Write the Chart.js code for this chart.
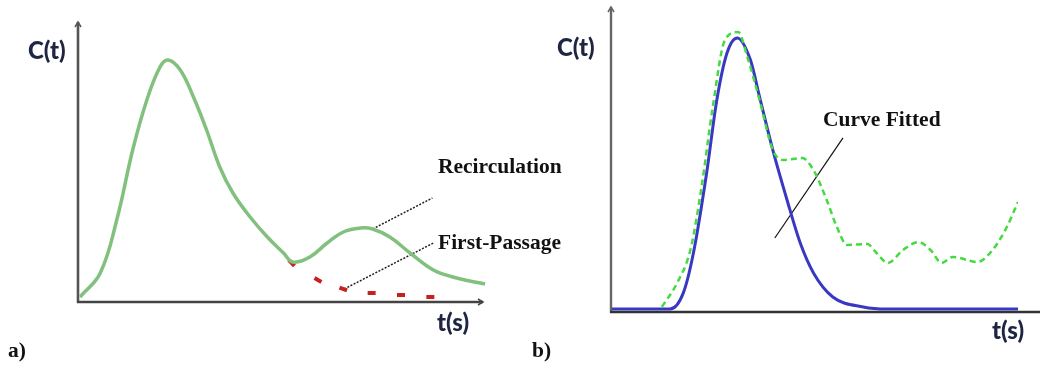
<!DOCTYPE html>
<html>
<head>
<meta charset="utf-8">
<title>C(t) curves</title>
<script src="https://cdn.jsdelivr.net/npm/chart.js@4.4.1/dist/chart.umd.min.js"></script>
<style>
  html, body { margin: 0; padding: 0; background: #fff; }
  #wrap { position: relative; width: 1040px; height: 376px; overflow: hidden; }
  canvas { position: absolute; top: 0; }
  #chartA { left: 0; }
  #chartB { left: 520px; }
  .lbl { position: absolute; white-space: nowrap; line-height: 1; transform: translateY(-50%); }
  .serif { font-family: "Liberation Serif", "Times New Roman", serif; font-weight: bold; font-size: 21.5px; color: #111; }
  .ax { font-family: Lato, "Open Sans", sans-serif; font-weight: 900; font-size: 24px; color: #1d2542; }
</style>
</head>
<body>
<div id="wrap">
  <canvas id="chartA" width="520" height="376"></canvas>
  <canvas id="chartB" width="520" height="376"></canvas>

  <div class="lbl ax" style="left:28px; top:50px;">C(t)</div>
  <div class="lbl ax" style="left:437px; top:322px;">t(s)</div>
  <div class="lbl serif" style="left:8px; top:351px;">a)</div>
  <div class="lbl serif" style="left:438px; top:167px;">Recirculation</div>
  <div class="lbl serif" style="left:438px; top:243px;">First-Passage</div>

  <div class="lbl ax" style="left:557px; top:47px;">C(t)</div>
  <div class="lbl ax" style="left:992px; top:330px;">t(s)</div>
  <div class="lbl serif" style="left:532px; top:351px;">b)</div>
  <div class="lbl serif" style="left:823px; top:120px;">Curve Fitted</div>
</div>

<script>
  // === Panel a: concentration with recirculation ===
  const tA = [0.2, 2.2, 3.9, 5.4, 6.8, 8.1, 8.9, 10.1, 11.4, 12.7, 14.0, 15.3, 17.0, 18.7, 20.3, 21.2, 22.9, 24.6, 26.2, 27.9, 29.1, 30.8, 32.8, 35.1, 37.4, 40.2];
  const cA = [0.25, 1.45, 4.25, 7.6, 10.1, 11.75, 12.1, 11.6, 10.25, 8.6, 6.75, 5.45, 4.25, 3.25, 2.45, 2.0, 2.25, 2.95, 3.5, 3.7, 3.65, 3.25, 2.45, 1.6, 1.2, 0.9];
  const tFirstPass = [21.1, 23.7, 26.2, 29.0, 31.9, 34.8];
  const cFirstPass = [1.95, 1.1, 0.65, 0.45, 0.35, 0.25];
  const dashAngle = [45, 30, 20, 0, 0, 0];
  const recircLeader = [[29.1, 3.65], [35.0, 5.2]];
  const firstPassLeader = [[26.3, 0.65], [35.1, 2.95]];

  // === Panel b: measured vs fitted ===
  const tFit = [0.1, 5.8, 7.1, 8.1, 9.4, 10.4, 11.4, 12.4, 13.7, 14.6, 15.9, 17.3, 18.6, 19.9, 21.8, 24.8, 27.1, 40];
  const cFit = [0.15, 0.15, 0.93, 2.9, 6.84, 10.43, 12.74, 13.48, 12.4, 10.58, 7.97, 5.51, 3.39, 1.92, 0.74, 0.25, 0.15, 0.15];
  const tMeas = [5.0, 6.5, 7.8, 8.9, 10.0, 11.2, 12.5, 13.4, 14.6, 15.9, 16.9, 18.8, 19.9, 21.2, 22.2, 23.2, 25.2, 26.1, 27.2, 28.7, 30.2, 31.4, 32.5, 33.6, 36.0, 37.5, 38.9, 40];
  const cMeas = [0.25, 1.43, 3.05, 6.15, 10.08, 13.38, 13.77, 12.54, 10.43, 7.97, 7.48, 7.57, 6.98, 5.51, 4.18, 3.3, 3.34, 2.9, 2.41, 3.05, 3.44, 3.05, 2.41, 2.71, 2.46, 3.05, 4.18, 5.41];
  const fitLeader = [[22.8, 8.56], [16.1, 3.64]];

  const pts = (xs, ys) => xs.map((x, i) => ({ x: x, y: ys[i] }));
  const pairs = arr => arr.map(p => ({ x: p[0], y: p[1] }));

  // axes with arrow heads, drawn under the curves
  const axesPlugin = {
    id: 'axes',
    beforeDatasetsDraw(chart, args, opts) {
      const { ctx, chartArea: a } = chart;
      ctx.save();
      ctx.strokeStyle = opts.yColor;
      ctx.lineWidth = opts.width;
      ctx.beginPath();
      ctx.moveTo(a.left, a.bottom + 1);
      ctx.lineTo(a.left, a.top);
      ctx.stroke();
      ctx.lineWidth = 1.5;
      ctx.beginPath();
      ctx.moveTo(a.left - 3, a.top + 5);
      ctx.lineTo(a.left, a.top);
      ctx.lineTo(a.left + 3, a.top + 5);
      ctx.stroke();

      const xEnd = opts.xEnd || a.right;
      ctx.strokeStyle = opts.xColor;
      ctx.lineWidth = opts.width;
      ctx.beginPath();
      ctx.moveTo(a.left - 1, a.bottom);
      ctx.lineTo(xEnd, a.bottom);
      ctx.stroke();
      if (opts.xArrow) {
        ctx.lineWidth = 1.5;
        ctx.beginPath();
        ctx.moveTo(xEnd - 5, a.bottom - 3);
        ctx.lineTo(xEnd, a.bottom);
        ctx.lineTo(xEnd - 5, a.bottom + 3);
        ctx.stroke();
      }
      ctx.restore();
    }
  };

  const baseOptions = {
    responsive: false,
    animation: false,
    events: [],
    plugins: { legend: { display: false }, tooltip: { enabled: false } },
    elements: { point: { radius: 0 } }
  };

  const chartA = document.getElementById('chartA');
  if (chartA) {
    new Chart(chartA, {
      type: 'line',
      data: {
        datasets: [{
          data: pts(tA, cA),
          borderColor: '#82c07e',
          borderWidth: 3.5,
          tension: 0.4,
          clip: false
        }, {
          data: pts(tFirstPass, cFirstPass),
          showLine: false,
          pointStyle: 'line',
          pointRadius: 4,
          pointRotation: dashAngle,
          pointBorderColor: '#c8201c',
          pointBorderWidth: 4
        }, {
          data: pairs(recircLeader),
          borderColor: '#222',
          borderWidth: 1.5,
          borderDash: [2, 1.5]
        }, {
          data: pairs(firstPassLeader),
          borderColor: '#222',
          borderWidth: 1.5,
          borderDash: [2, 1.5]
        }]
      },
      options: {
        ...baseOptions,
        layout: { padding: { left: 78, right: 37, top: 22, bottom: 74 } },
        scales: {
          x: { type: 'linear', min: 0, max: 40, display: false },
          y: { min: 0, max: 14, display: false }
        },
        plugins: {
          ...baseOptions.plugins,
          axes: { yColor: '#555', xColor: '#444', width: 2.6, xArrow: true }
        }
      },
      plugins: [axesPlugin]
    });
  }

  const chartB = document.getElementById('chartB');
  if (chartB) {
    new Chart(chartB, {
      type: 'line',
      data: {
        datasets: [{
          data: pts(tMeas, cMeas),
          borderColor: '#44da40',
          borderWidth: 2.5,
          borderDash: [6, 4],
          cubicInterpolationMode: 'monotone'
        }, {
          data: pts(tFit, cFit),
          borderColor: '#3838c2',
          borderWidth: 3,
          cubicInterpolationMode: 'monotone'
        }, {
          data: pairs(fitLeader),
          borderColor: '#111',
          borderWidth: 1.2
        }]
      },
      options: {
        ...baseOptions,
        layout: { padding: { left: 91, right: 22, top: 7, bottom: 64 } },
        scales: {
          x: { type: 'linear', min: 0, max: 40, display: false },
          y: { min: 0, max: 15, display: false }
        },
        plugins: {
          ...baseOptions.plugins,
          axes: { yColor: '#666', xColor: '#333', width: 2.4, xEnd: 520, xArrow: false }
        }
      },
      plugins: [axesPlugin]
    });
  }
</script>
</body>
</html>
